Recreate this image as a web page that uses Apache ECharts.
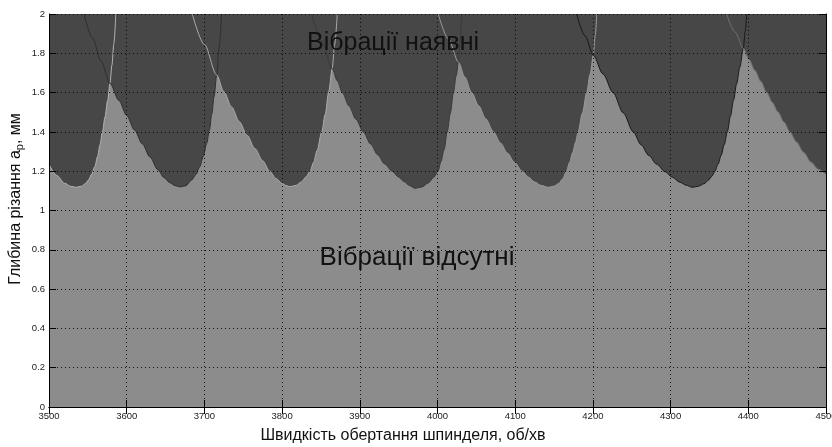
<!DOCTYPE html>
<html>
<head>
<meta charset="utf-8">
<script src="https://cdn.jsdelivr.net/npm/echarts@6/dist/echarts.min.js"></script>
<style>
html,body{margin:0;padding:0;background:#fff;}
#chart{width:832px;height:447px;}
</style>
</head>
<body>
<div id="chart"></div>
<script>
// ---- Data (spindle speed, rpm ; depth of cut, mm) ----
var xTicks = [3500,3600,3700,3800,3900,4000,4100,4200,4300,4400,4500];
var yTicks = [0,0.2,0.4,0.6,0.8,1,1.2,1.4,1.6,1.8,2];
var xTickLabels = ['3500','3600','3700','3800','3900','4000','4100','4200','4300','4400','4500'];
var yTickLabels = ['0','0.2','0.4','0.6','0.8','1','1.2','1.4','1.6','1.8','2'];

var lobe1 = [[3500,1.235],[3510,1.178],[3520,1.139],[3528,1.123],[3535,1.118],[3542,1.124],[3547,1.137],[3551,1.156],[3555,1.185],[3559,1.223],[3562.5,1.275],[3565.6,1.335],[3569,1.405],[3572,1.475],[3575.5,1.56],[3578.5,1.647],[3581,1.74],[3583.5,1.85],[3586,2.0]];
var lobe2 = [[3545,2.0],[3556,1.878],[3567,1.76],[3578.5,1.647],[3590,1.56],[3600,1.484],[3610,1.41],[3620,1.34],[3630,1.272],[3640,1.208],[3648,1.168],[3655,1.143],[3662,1.127],[3668.6,1.12],[3676,1.126],[3683.6,1.155],[3689,1.183],[3694,1.223],[3698.5,1.275],[3703,1.342],[3706.5,1.41],[3709.4,1.49],[3712.5,1.58],[3715.8,1.69],[3719,1.83],[3722,2.0]];
var lobe3 = [[3684.4,2.0],[3700,1.845],[3715.8,1.69],[3725,1.605],[3735,1.527],[3745,1.452],[3755,1.382],[3765,1.315],[3775,1.253],[3784,1.2],[3792,1.163],[3800,1.138],[3805,1.127],[3810,1.121],[3818,1.128],[3825,1.146],[3831,1.172],[3836,1.2],[3840.5,1.245],[3845,1.305],[3851,1.4],[3855.5,1.49],[3860,1.605],[3864.5,1.722],[3867.5,1.84],[3871,2.0]];
var lobe4 = [[3838,2.0],[3851,1.863],[3864.5,1.722],[3871,1.66],[3877.5,1.6],[3886,1.533],[3895,1.465],[3904.5,1.4],[3914,1.338],[3923,1.284],[3932,1.237],[3941.8,1.2],[3950,1.17],[3957,1.147],[3964,1.127],[3971,1.113],[3980,1.12],[3988,1.14],[3995,1.168],[4000.6,1.2],[4004.5,1.25],[4008.5,1.31],[4012.5,1.4],[4016.5,1.495],[4020.5,1.6],[4024,1.685],[4027,1.755],[4029,1.86],[4031,2.0]];
var lobe5 = [[4001,2.0],[4014,1.874],[4027,1.755],[4035,1.68],[4044,1.6],[4053,1.533],[4062,1.467],[4072,1.4],[4081,1.344],[4090,1.292],[4099,1.245],[4109,1.2],[4117,1.17],[4125,1.145],[4133,1.128],[4142.6,1.118],[4150,1.124],[4156,1.138],[4161,1.16],[4166,1.2],[4170,1.245],[4174,1.295],[4177.5,1.345],[4181,1.4],[4186.5,1.495],[4192,1.6],[4196.5,1.695],[4200.5,1.79],[4203,1.89],[4205,2.0]];
var lobe6 = [[4179,2.0],[4190,1.888],[4200.5,1.79],[4213,1.695],[4226,1.6],[4239,1.497],[4252,1.4],[4262,1.335],[4272,1.28],[4282,1.236],[4292.8,1.198],[4302,1.17],[4312,1.144],[4320,1.129],[4328,1.118],[4336,1.124],[4343,1.136],[4349,1.155],[4353,1.174],[4357,1.2],[4361,1.235],[4365,1.28],[4369,1.335],[4373,1.4],[4377,1.48],[4381,1.562],[4385,1.645],[4389,1.728],[4393.6,1.825],[4396,1.91],[4398,2.0]];
var lobe7 = [[4372,2.0],[4383,1.908],[4393.6,1.825],[4401,1.769],[4408.6,1.713],[4416,1.658],[4423.6,1.602],[4431,1.55],[4438,1.503],[4446,1.45],[4453.7,1.4],[4462,1.349],[4471,1.297],[4481,1.245],[4490,1.21],[4500,1.185]];

var lobes = [lobe1, lobe2, lobe3, lobe4, lobe5, lobe6, lobe7];
var lobeColors = ['#b4b4b4','#303030','#aaaaaa','#3a3a3a','#9a9a9a','#1a1a1a','#707070'];

var xTitle = 'Швидкість обертання шпинделя, об/хв';
var yTitle = 'Глибина різання a{sub|p}, мм';
var unstableText = 'Вібрації наявні';
var stableText = 'Вібрації відсутні';

// ---- Chart ----
var chart = echarts.init(document.getElementById('chart'), null, {renderer:'canvas'});
var FONT = '"Liberation Sans", Arial, sans-serif';

var series = [];
lobes.forEach(function(d){
  series.push({
    type:'line', data:d, symbol:'none', silent:true, z:2,
    smooth:0.3, smoothMonotone:'x',
    lineStyle:{width:0, opacity:0},
    areaStyle:{origin:'end', color:'#474747', opacity:1}
  });
});
lobes.forEach(function(d, i){
  series.push({
    type:'line', data:d, symbol:'none', silent:true, z:3,
    smooth:0.3, smoothMonotone:'x',
    lineStyle:{width:1, color:lobeColors[i]}
  });
});

function xLabel(v){ var i = xTicks.indexOf(Math.round(v)); return i >= 0 ? xTickLabels[i] : ''; }
function yLabel(v){ var i = Math.round((v - yTicks[0]) / (yTicks[1] - yTicks[0])); return yTickLabels[i] || ''; }

var dotted = {show:true, lineStyle:{color:'#000', width:1, type:[1,3], opacity:0.85}};

var option = {
  animation:false,
  backgroundColor:'#ffffff',
  grid:{left:49, right:6, top:14, bottom:40, show:true, backgroundColor:'#8c8c8c', borderWidth:0,
        containLabel:false, outerBoundsMode:'none'},
  xAxis:[{
    type:'value', position:'bottom', z:10,
    min:xTicks[0], max:xTicks[xTicks.length-1], interval:xTicks[1]-xTicks[0],
    axisLine:{show:true, lineStyle:{color:'#000', width:1}},
    axisTick:{show:true, inside:true, length:7, lineStyle:{color:'#000'}},
    axisLabel:{fontFamily:FONT, fontSize:9.5, color:'#222', margin:4, formatter:xLabel},
    splitLine:dotted
  },{
    type:'value', position:'top', z:10,
    min:xTicks[0], max:xTicks[xTicks.length-1], interval:xTicks[1]-xTicks[0],
    axisLine:{show:true, lineStyle:{color:'#000', width:1}},
    axisTick:{show:true, inside:true, length:7, lineStyle:{color:'#000'}},
    axisLabel:{show:false}, splitLine:{show:false}
  }],
  yAxis:[{
    type:'value', position:'left', z:10,
    min:yTicks[0], max:yTicks[yTicks.length-1], interval:yTicks[1]-yTicks[0],
    axisLine:{show:true, lineStyle:{color:'#000', width:1}},
    axisTick:{show:true, inside:true, length:7, lineStyle:{color:'#000'}},
    axisLabel:{fontFamily:FONT, fontSize:9.5, color:'#222', margin:4, formatter:yLabel},
    splitLine:dotted
  },{
    type:'value', position:'right', z:10,
    min:yTicks[0], max:yTicks[yTicks.length-1], interval:yTicks[1]-yTicks[0],
    axisLine:{show:true, lineStyle:{color:'#000', width:1}},
    axisTick:{show:true, inside:true, length:7, lineStyle:{color:'#000'}},
    axisLabel:{show:false}, splitLine:{show:false}
  }],
  series:series,
  graphic:[
    {type:'text', z:100, style:{text:xTitle, x:403, y:436, fontFamily:FONT, fontSize:16, fill:'#111', align:'center', verticalAlign:'middle'}},
    {type:'text', z:100, x:16, y:199, rotation:Math.PI/2,
      style:{text:yTitle, x:0, y:0, fontFamily:FONT, fontSize:16, fill:'#111', align:'center', verticalAlign:'middle',
        rich:{sub:{fontFamily:FONT, fontSize:11, fill:'#111', verticalAlign:'bottom', padding:[7,0,0,0]}}}},
    {type:'text', z:100, style:{text:unstableText, x:393, y:43, fontFamily:FONT, fontSize:25, fill:'#111', align:'center', verticalAlign:'middle'}},
    {type:'text', z:100, style:{text:stableText, x:417, y:258, fontFamily:FONT, fontSize:26, fill:'#111', align:'center', verticalAlign:'middle'}}
  ]
};
chart.setOption(option);
</script>
</body>
</html>
